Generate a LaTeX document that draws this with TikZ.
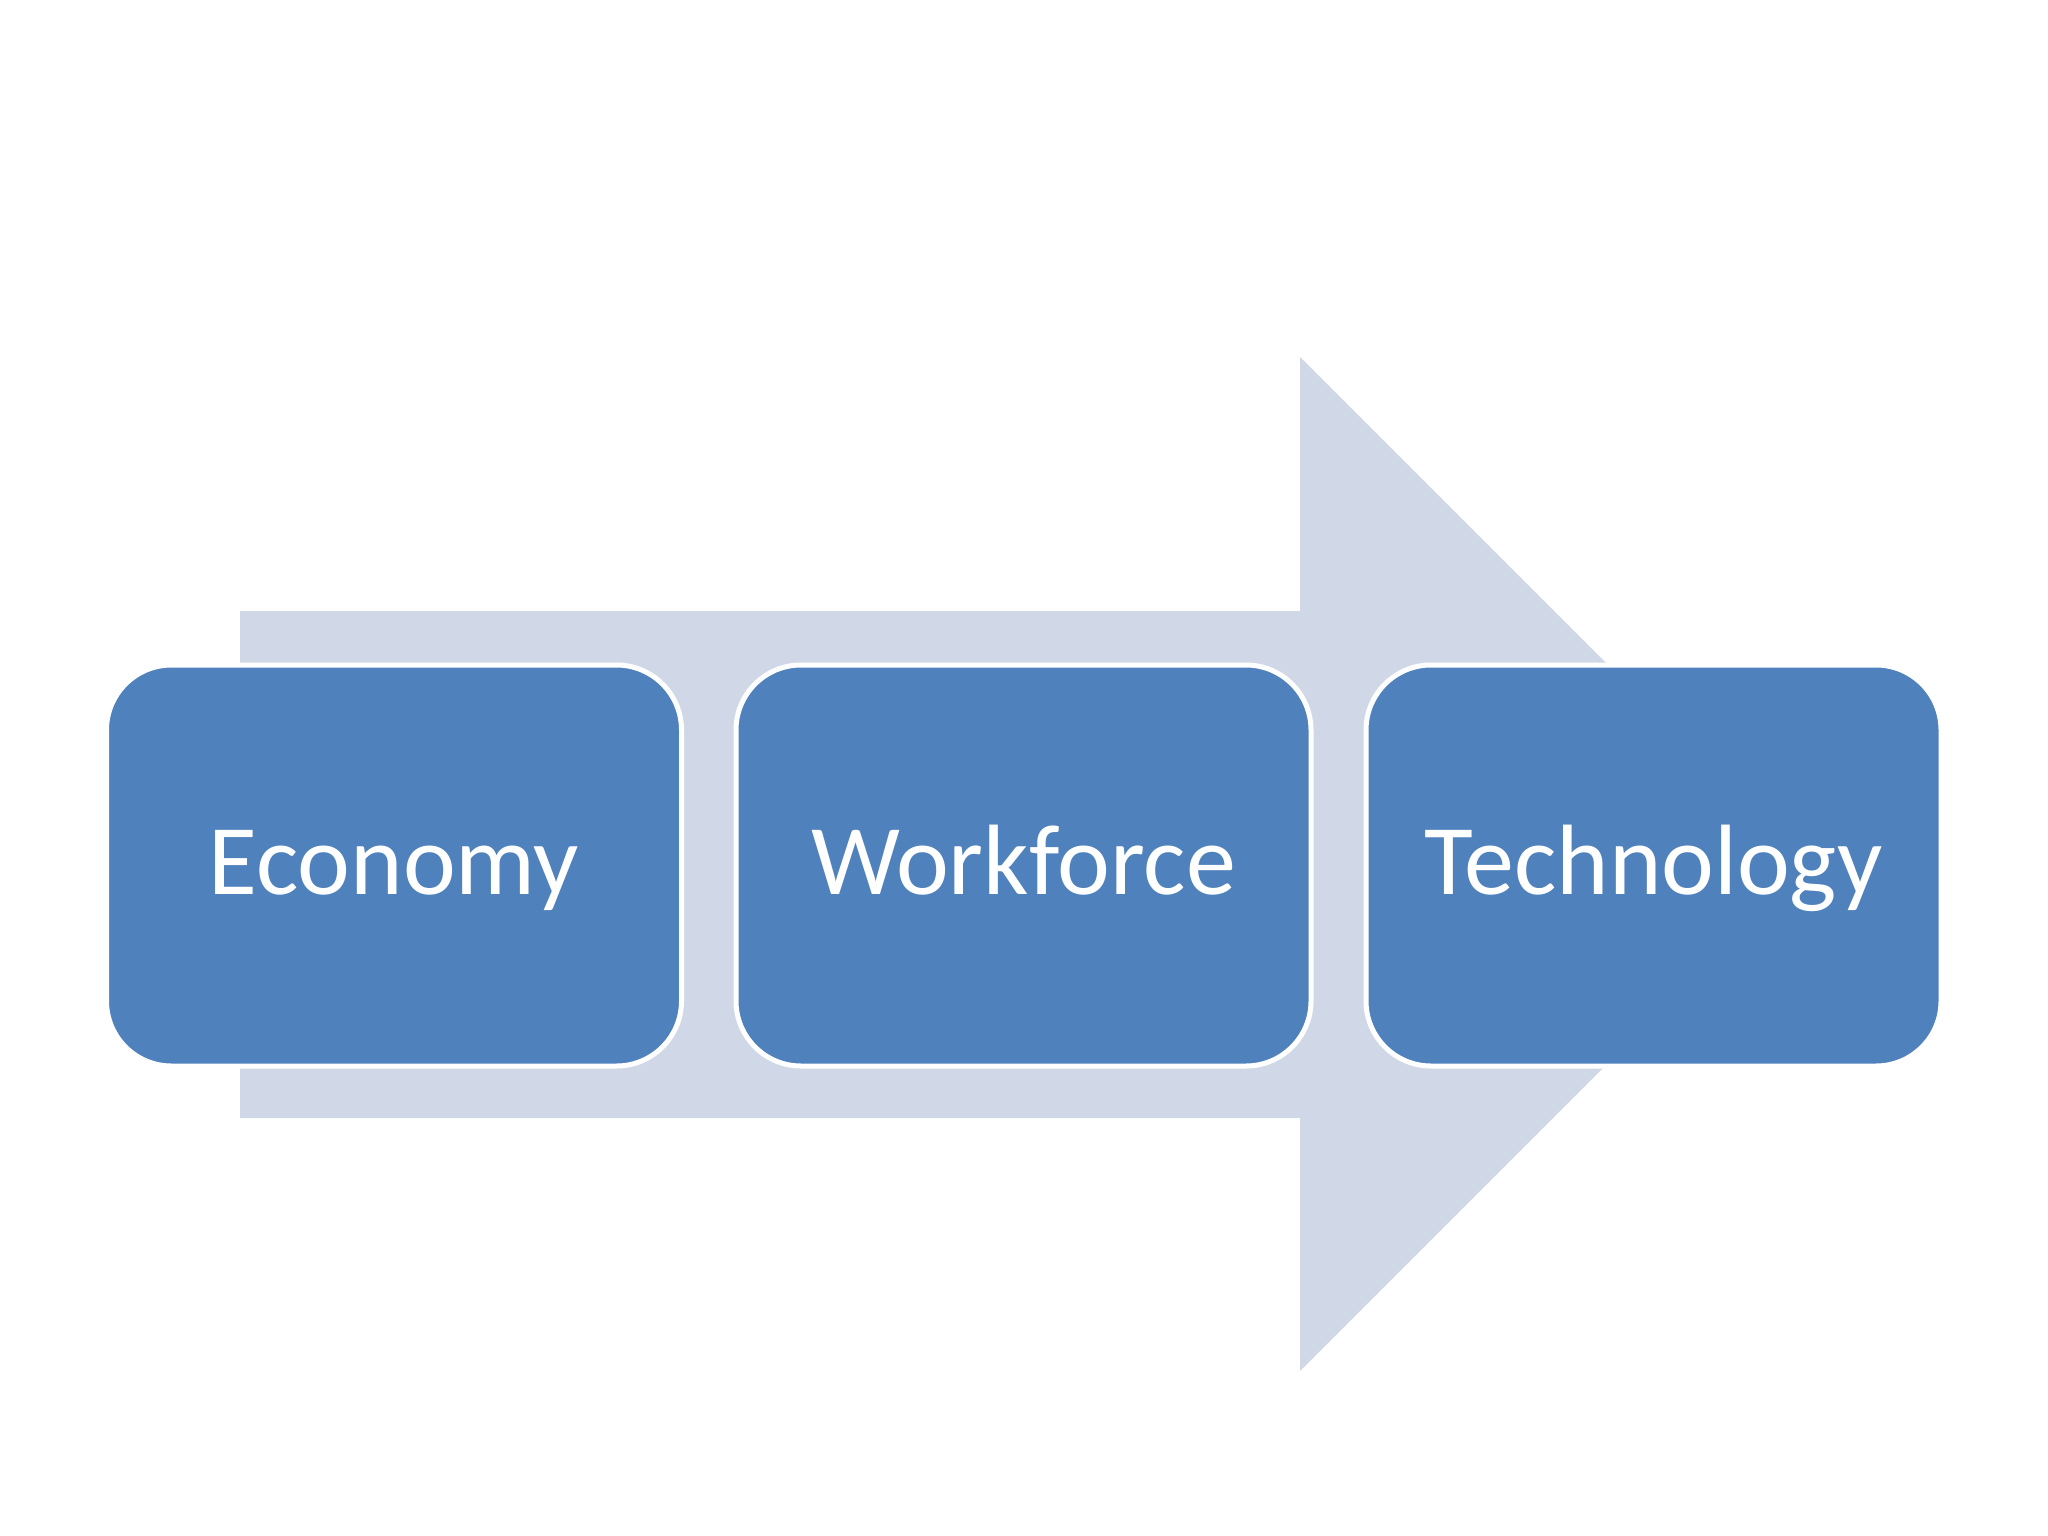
\documentclass[tikz,border=0pt]{standalone}
\usepackage{fontspec}
\setmainfont{Carlito}
\definecolor{boxblue}{HTML}{4F81BD}
\definecolor{arrowgray}{HTML}{D0D8E8}
\begin{document}
\begin{tikzpicture}[x=1pt,y=-1pt,
  stagebox/.style={rectangle, rounded corners=65pt, fill=boxblue, draw=white, line width=5pt,
    minimum width=575pt, minimum height=401pt, inner sep=0pt, text=white,
    font=\fontsize{100}{120}\selectfont, text height=65pt, text depth=8pt}]
\useasboundingbox (0,0) rectangle (2048,1536);
\fill[white] (0,0) rectangle (2048,1536);
\fill[arrowgray] (240,611) -- (1300,611) -- (1300,357) -- (1807,864) -- (1300,1371) -- (1300,1118) -- (240,1118) -- cycle;
\node[stagebox] (economy) at (394,865.5) {Economy};
\node[stagebox] (workforce) at (1023.5,865.5) {Workforce};
\node[stagebox] (technology) at (1653.5,865.5) {Technology};
\end{tikzpicture}
\end{document}
